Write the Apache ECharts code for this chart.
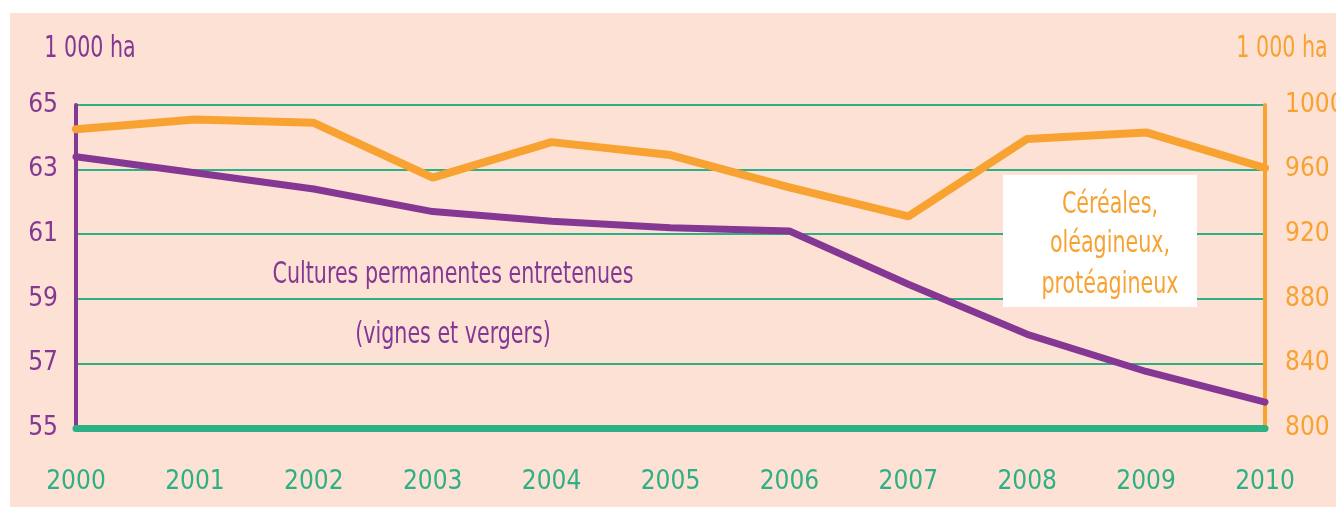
<!DOCTYPE html>
<html>
<head>
<meta charset="utf-8">
<script src="https://cdn.jsdelivr.net/npm/echarts@6/dist/echarts.min.js"></script>
<style>
  html, body { margin: 0; padding: 0; background: #ffffff; }
  #chart { position: absolute; left: 10px; top: 13px; width: 1326px; height: 494px; background: #fde1d5; }
</style>
</head>
<body>
<div id="chart"></div>
<script>
// Years on the x axis
const years = ['2000', '2001', '2002', '2003', '2004', '2005', '2006', '2007', '2008', '2009', '2010'];
// Permanent crops (vines & orchards), 1 000 ha, left axis
const permanentCrops = [63.4, 62.9, 62.4, 61.7, 61.4, 61.2, 61.1, 59.45, 57.9, 56.75, 55.8];
// Cereals, oilseeds, protein crops, 1 000 ha, right axis
const cereals = [985, 991, 989, 955, 977, 969, 949, 931, 979, 983, 961];

const FONT = '"DejaVu Sans Condensed", "Liberation Sans Narrow", "Roboto", sans-serif';
const PURPLE = '#843893';
const ORANGE = '#f8a232';
const GREEN = '#2eb084';

// condensed text helper for the free labels
const label = (text, x, y, color, extra) => Object.assign({
  type: 'text', x: x, y: y, scaleX: 0.74, originX: 0, originY: 0,
  style: { text: text, fill: color, font: '31px ' + FONT, align: 'center', verticalAlign: 'middle' }
}, extra || {});

const chart = echarts.init(document.getElementById('chart'));

chart.setOption({
  animation: false,
  textStyle: { fontFamily: FONT },
  grid: { left: 66, right: 71, top: 92, bottom: 79, outerBoundsMode: 'none' },
  xAxis: {
    type: 'category',
    data: years,
    boundaryGap: false,
    axisLine: { lineStyle: { color: GREEN, width: 7 } },
    axisTick: { show: false },
    axisLabel: { color: GREEN, fontSize: 26, margin: 41, fontFamily: FONT }
  },
  yAxis: [
    {
      type: 'value',
      min: 55, max: 65, interval: 2,
      axisLine: { show: true, lineStyle: { color: PURPLE, width: 4 } },
      axisTick: { show: false },
      axisLabel: { color: PURPLE, fontSize: 26, margin: 18, fontFamily: FONT },
      splitLine: { lineStyle: { color: GREEN, width: 2 } }
    },
    {
      type: 'value',
      min: 800, max: 1000, interval: 40,
      position: 'right',
      axisLine: { show: true, lineStyle: { color: ORANGE, width: 4 } },
      axisTick: { show: false },
      axisLabel: { color: ORANGE, fontSize: 26, margin: 20, fontFamily: FONT, formatter: v => String(v) },
      splitLine: { show: false }
    }
  ],
  graphic: [
    label('1 000 ha', 80, 36, PURPLE),
    label('1 000 ha', 1272, 36, ORANGE),
    label('Cultures permanentes entretenues', 443, 262, PURPLE),
    label('(vignes et vergers)', 443, 322, PURPLE),
    { type: 'rect', x: 993, y: 162, shape: { width: 194, height: 132 }, style: { fill: '#ffffff' }, z: 10 },
    label('Céréales,', 1100, 192, ORANGE, { z: 11 }),
    label('oléagineux,', 1100, 231, ORANGE, { z: 11 }),
    label('protéagineux', 1100, 272, ORANGE, { z: 11 })
  ],
  series: [
    {
      name: 'Cultures permanentes entretenues',
      type: 'line',
      data: permanentCrops,
      yAxisIndex: 0,
      showSymbol: false,
      lineStyle: { color: PURPLE, width: 7, cap: 'round' },
      z: 3
    },
    {
      name: 'Céréales, oléagineux, protéagineux',
      type: 'line',
      data: cereals,
      yAxisIndex: 1,
      showSymbol: false,
      lineStyle: { color: ORANGE, width: 8, cap: 'round' },
      z: 3
    }
  ]
});
</script>
</body>
</html>
